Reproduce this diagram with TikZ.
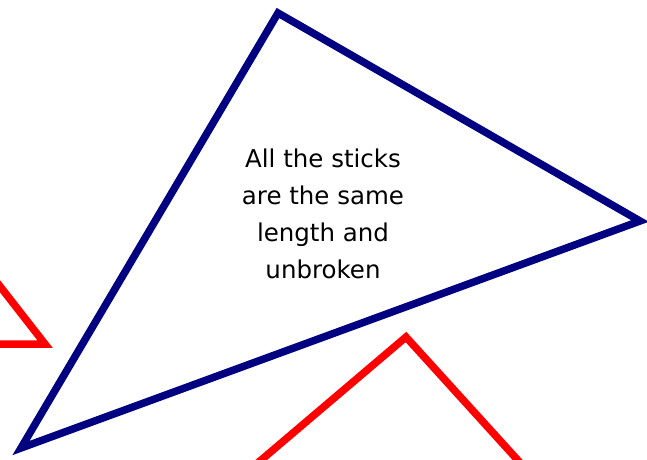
\documentclass[tikz,border=0pt]{standalone}
\usepackage{fontspec}
\setmainfont{DejaVu Sans}
\usepackage{xcolor}
\definecolor{stickblue}{RGB}{0,0,128}
\definecolor{stickred}{RGB}{255,0,0}

\begin{document}
\begin{tikzpicture}[x=1pt,y=-1pt,
    bluestick/.style={stickblue, line width=7.5pt, line join=miter},
    redstick/.style={stickred, line width=7.5pt, line join=miter}]
            % picture frame
            \useasboundingbox (0,0) rectangle (647,459);

            % corners of the big triangle
            \coordinate (top) at (278,13);
            \coordinate (right) at (640,221);
            \coordinate (left) at (21,448);

            % red triangles, cut off by the frame
            \begin{scope}
              \clip (0,0) rectangle (647,459);
              \draw[redstick] (-40,235) -- (45,344) -- (-20,344);
              \draw[redstick] (240,478) -- (406,337) -- (534,478);
            \end{scope}

            % big blue triangle
            \draw[bluestick] (top) -- (right) -- (left) -- cycle;

            % % Add text
            \node[font=\fontsize{24.5}{37}\selectfont, align=center] (note) at (323,214)
              {All the sticks\\are the same\\length and\\unbroken};
        \end{tikzpicture}
\end{document}
